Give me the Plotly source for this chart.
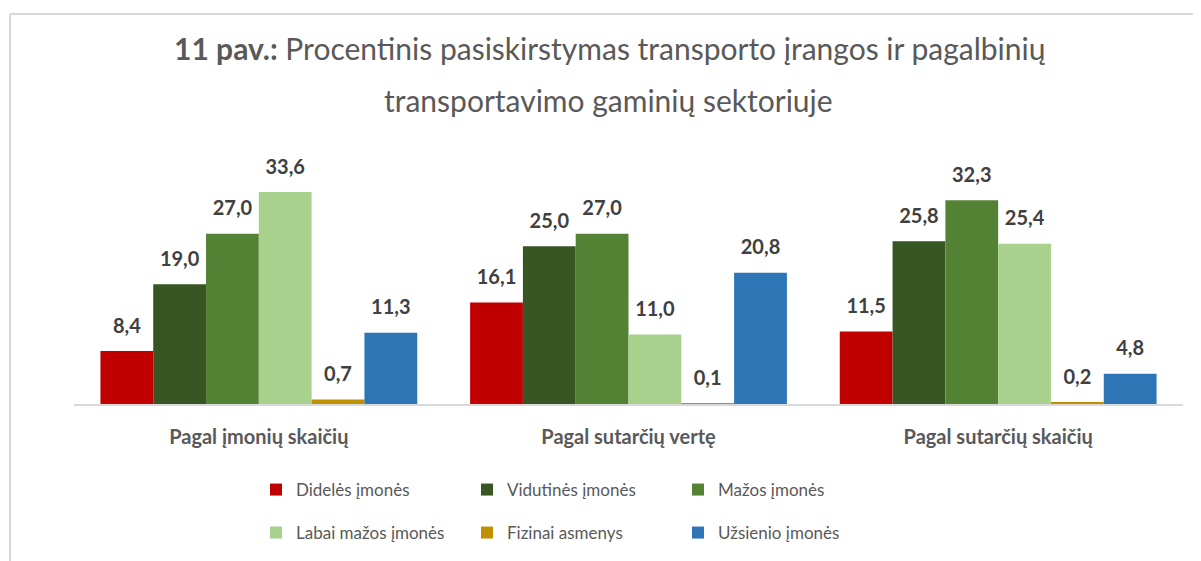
import plotly.graph_objects as go

categories = ["Pagal įmonių skaičių", "Pagal sutarčių vertę", "Pagal sutarčių skaičių"]
series_names = ["Didelės įmonės", "Vidutinės įmonės", "Mažos įmonės",
                "Labai mažos įmonės", "Fizinai asmenys", "Užsienio įmonės"]
didelės = [8.4, 16.1, 11.5]
vidutinės = [19.0, 25.0, 25.8]
mažos = [27.0, 27.0, 32.3]
labai_mažos = [33.6, 11.0, 25.4]
fiziniai = [0.7, 0.1, 0.2]
užsienio = [11.3, 20.8, 4.8]
series_values = [didelės, vidutinės, mažos, labai_mažos, fiziniai, užsienio]
colors = ["#C00000", "#375623", "#548235", "#A9D18E", "#BF9000", "#2E75B6"]

W, H = 1201, 561
OFF = 8  # page body margin
L, R, T, B = 74 - OFF, 1183 - OFF, 170 - OFF, 404 - OFF  # plot area in figure px
GAP = 0.143


def px_x(px):
    return (px - OFF - L) / (R - L)


def px_y(py):
    return (B - (py - OFF)) / (B - T)


FONT = "Lato"
fig = go.Figure()
for i, (name, vals, col) in enumerate(zip(series_names, series_values, colors)):
    fig.add_trace(go.Bar(
        x=categories, y=vals, name=name,
        marker=dict(color=col, line=dict(width=0)),
        legend="legend" if i < 3 else "legend2",
        hoverinfo="skip",
    ))
# value labels, grouped the same way as the bars
for i, (name, vals) in enumerate(zip(series_names, series_values)):
    fig.add_trace(go.Scatter(
        x=categories, y=vals, name=name, mode="markers+text", orientation="v",
        marker=dict(size=20, opacity=0, color="white"),
        texttemplate="%{y:.1f}", textposition="top center",
        textfont=dict(family=FONT, size=20, color="#404040", weight="bold"),
        cliponaxis=False, showlegend=False,
    ))

legend_common = dict(orientation="h", xanchor="left", yanchor="middle",
                     entrywidth=166, entrywidthmode="pixels", itemwidth=30,
                     font=dict(family=FONT, size=17, color="#595959"),
                     bgcolor="rgba(0,0,0,0)")

fig.update_layout(
    width=W, height=H,
    margin=dict(l=L, r=W - R, t=T, b=H - B),
    barmode="group", bargap=GAP, bargroupgap=0,
    scattermode="group", scattergap=GAP,
    separators=", ",
    plot_bgcolor="white", paper_bgcolor="white",
    font=dict(family=FONT, color="#595959"),
    showlegend=True,
    legend=dict(x=px_x(256), y=px_y(490), **legend_common),
    legend2=dict(x=px_x(256), y=px_y(533), **legend_common),
    xaxis=dict(showline=True, linecolor="#D9D9D9", linewidth=2, ticks="",
               tickfont=dict(family=FONT, size=20, color="#595959", weight="bold"),
               ticklabelstandoff=14),
    yaxis=dict(range=[0, 37.1], visible=False, showgrid=False),
    annotations=[
        dict(text="<b>11 pav.:</b> Procentinis pasiskirstymas transporto įrangos ir pagalbinių",
             xref="paper", yref="paper", x=px_x(610), y=px_y(48), showarrow=False,
             xanchor="center", yanchor="middle",
             font=dict(family=FONT, size=30, color="#595959")),
        dict(text="transportavimo gaminių sektoriuje",
             xref="paper", yref="paper", x=px_x(608), y=px_y(100), showarrow=False,
             xanchor="center", yanchor="middle",
             font=dict(family=FONT, size=30, color="#595959")),
    ],
    shapes=[
        dict(type="line", xref="paper", yref="paper", x0=px_x(10), x1=px_x(10),
             y0=px_y(14), y1=px_y(580), line=dict(color="#D9D9D9", width=2)),
        dict(type="line", xref="paper", yref="paper", x0=px_x(10), x1=px_x(1220),
             y0=px_y(14), y1=px_y(14), line=dict(color="#D9D9D9", width=2)),
    ],
)

fig.write_html("out.html")
